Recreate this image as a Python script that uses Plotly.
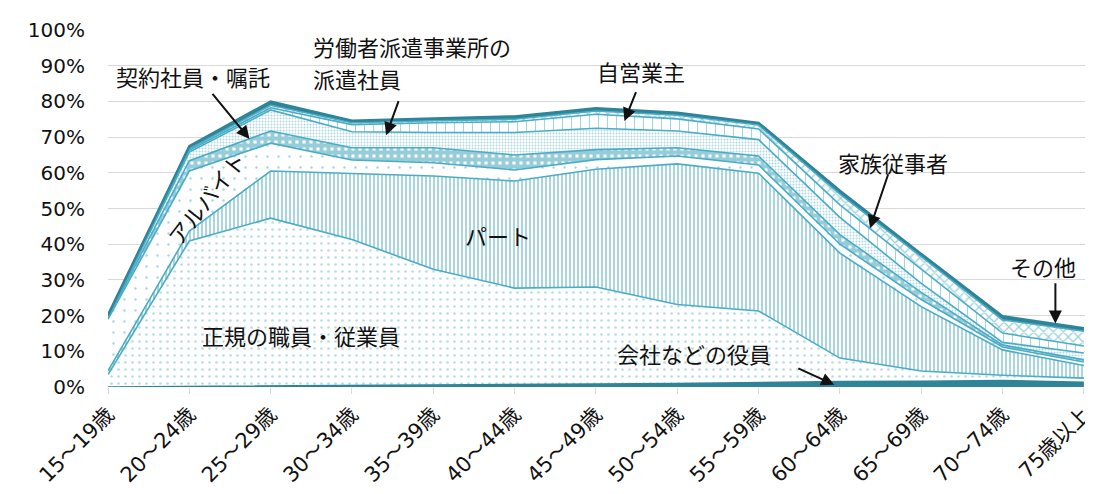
import plotly.graph_objects as go

categories = ["15～19歳", "20～24歳", "25～29歳", "30～34歳", "35～39歳", "40～44歳",
              "45～49歳", "50～54歳", "55～59歳", "60～64歳", "65～69歳", "70～74歳", "75歳以上"]

yakuin = [0.0, 0.1, 0.2, 0.4, 0.5, 0.6, 0.8, 1.0, 1.3, 1.5, 1.6, 1.8, 1.3]
seiki = [3.5, 40.8, 47.1, 40.9, 32.5, 27.1, 27.2, 22.1, 20.0, 6.6, 2.9, 1.5, 1.2]
part = [1.0, 2.8, 13.2, 18.4, 26.1, 30.0, 33.0, 39.4, 38.6, 29.4, 18.0, 7.1, 3.5]
arbeit = [14.5, 16.8, 7.8, 3.9, 3.7, 3.1, 2.7, 2.2, 2.3, 2.5, 2.0, 0.8, 1.0]
keiyaku = [0.3, 2.9, 3.4, 3.4, 4.2, 4.2, 2.8, 2.3, 2.5, 2.7, 2.0, 0.6, 0.6]
haken = [0.2, 2.4, 5.9, 4.5, 4.3, 6.3, 6.0, 4.7, 4.6, 4.8, 2.5, 0.7, 1.9]
jiei = [0.2, 0.5, 0.6, 2.0, 2.7, 3.0, 3.9, 3.4, 3.0, 3.5, 4.0, 2.6, 2.0]
kazoku = [0.2, 0.4, 0.7, 0.5, 0.6, 0.7, 0.9, 1.0, 1.1, 3.0, 3.5, 3.7, 4.1]
sonota = [0.3, 0.8, 1.1, 0.6, 0.6, 0.8, 0.8, 0.7, 0.6, 1.0, 0.8, 1.0, 0.9]

y_ticks = [0, 10, 20, 30, 40, 50, 60, 70, 80, 90, 100]
y_tick_labels = [f"{v}%" for v in y_ticks]

x = list(range(len(categories)))
LINE = "#4bacc6"
DARK = "#2f8497"

series = [
    ("会社などの役員", yakuin, dict(shape="", fgcolor=DARK, bgcolor=DARK), DARK, 1.6),
    ("正規の職員・従業員", seiki, dict(shape=".", size=7, solidity=0.12, fgcolor="#6fb9cc", bgcolor="white"), LINE, 1.6),
    ("パート", part, dict(shape="|", size=4, solidity=0.45, fgcolor="#3da3bb", bgcolor="white"), LINE, 1.6),
    ("アルバイト", arbeit, dict(shape=".", size=11, solidity=0.04, fgcolor="#4bacc6", bgcolor="white"), LINE, 1.6),
    ("契約社員・嘱託", keiyaku, dict(shape="+", size=7, solidity=0.8, fgcolor="#2f9ab3", bgcolor="white"), LINE, 1.6),
    ("労働者派遣事業所の派遣社員", haken, dict(shape=".", size=3, solidity=0.35, fgcolor="#5fb4ca", bgcolor="white"), LINE, 1.6),
    ("自営業主", jiei, dict(shape="|", size=9, solidity=0.12, fgcolor="#4bacc6", bgcolor="white"), LINE, 1.6),
    ("家族従事者", kazoku, dict(shape="x", size=7, solidity=0.35, fgcolor="#3da3bb", bgcolor="white"), LINE, 1.6),
    ("その他", sonota, dict(shape="", fgcolor=DARK, bgcolor=DARK), DARK, 2.4),
]

fig = go.Figure()
for name, vals, pat, lc, lw in series:
    fig.add_trace(go.Scatter(
        x=x, y=vals, name=name, mode="lines", stackgroup="one",
        line=dict(color=lc, width=lw),
        fillcolor=pat["bgcolor"],
        fillpattern=pat if pat["shape"] else None,
        hoverinfo="skip",
    ))

FONT = "Noto Sans CJK JP"
TXT = dict(family=FONT, size=22, color="#111111")

def label(text, tx, ty, xanchor="center"):
    fig.add_annotation(x=tx, y=ty, xref="x", yref="y", text=text, showarrow=False, font=TXT,
                       xanchor=xanchor)

def arrow(hx, hy, ax, ay):
    fig.add_annotation(x=hx, y=hy, xref="x", yref="y", ax=ax, ay=ay, axref="x", ayref="y",
                       text="", showarrow=True, arrowhead=2, arrowsize=1.3, arrowwidth=2,
                       arrowcolor="#111111")

label("契約社員・嘱託", 1.05, 87)
arrow(1.74, 69.5, 1.27, 82.5)
label("労働者派遣事業所の", 2.5, 95.5, xanchor="left")
label("派遣社員", 2.5, 86.5, xanchor="left")
arrow(3.42, 70.5, 3.58, 80.5)
label("自営業主", 6.55, 88.5)
arrow(6.35, 74.5, 6.5, 83)
label("家族従事者", 9.65, 63)
arrow(9.37, 44.5, 9.6, 60)
label("その他", 11.5, 34)
arrow(11.65, 17.8, 11.65, 29.5)
label("会社などの役員", 7.2, 9.5)
arrow(8.93, 0.6, 8.47, 5.4)

fig.add_annotation(x=1.2, y=53, xref="x", yref="y", text="アルバイト", showarrow=False,
                   textangle=-52, font=TXT)
label("パート", 4.8, 42.5)
label("正規の職員・従業員", 2.37, 14.5)

fig.update_layout(
    width=1093, height=494,
    margin=dict(l=100, r=6, t=22, b=115),
    plot_bgcolor="white", paper_bgcolor="white",
    showlegend=False,
    font=dict(family=FONT, size=20, color="#111111"),
)
fig.update_xaxes(
    range=[0, 12.1], tickmode="array", tickvals=x, ticktext=categories,
    tickangle=-45, showgrid=False, zeroline=False,
    ticks="outside", ticklen=6, tickcolor="#d9d9d9",
    tickfont=dict(family="DejaVu Sans, Noto Sans CJK JP", size=21, color="#111111"),
)
fig.update_yaxes(
    range=[0, 100], tickmode="array", tickvals=y_ticks, ticktext=y_tick_labels,
    showgrid=True, gridcolor="#d9d9d9", gridwidth=1, zeroline=False,
    ticklabelstandoff=22,
    tickfont=dict(family="DejaVu Sans, Noto Sans CJK JP", size=20, color="#111111"),
)

fig.write_html("out.html")
